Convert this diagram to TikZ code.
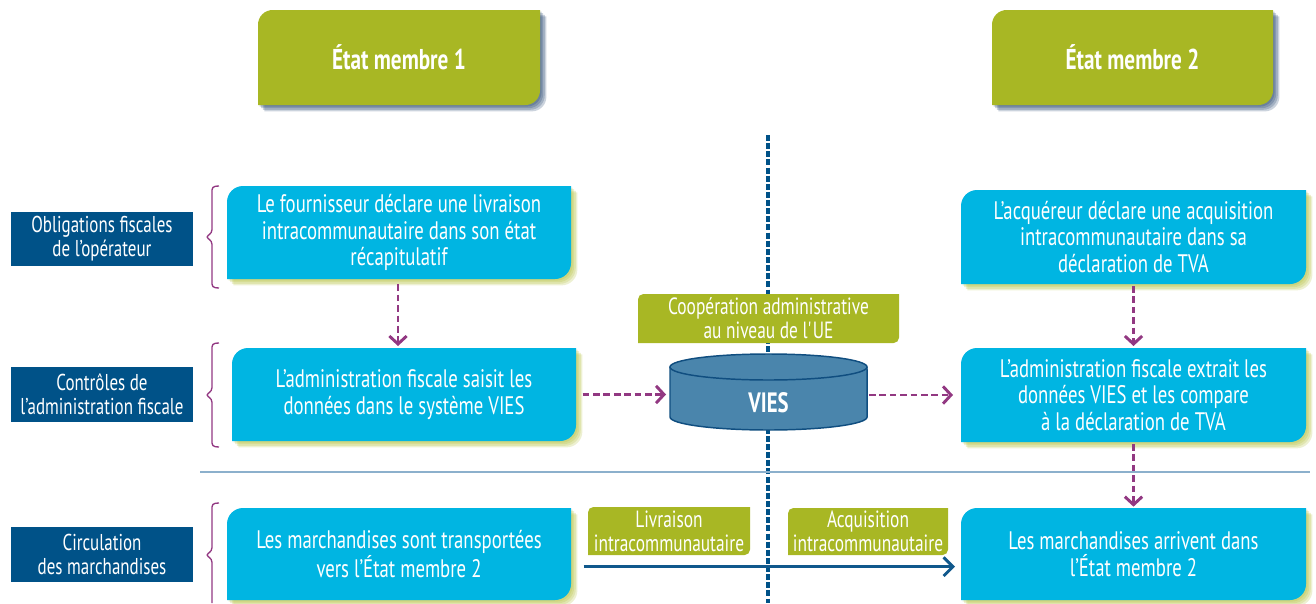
\documentclass[tikz,border=0pt]{standalone}
\usepackage{fontspec}
\setmainfont{PT Sans}[FakeStretch=0.74]
\usetikzlibrary{arrows.meta}
\definecolor{cyanbox}{RGB}{0,181,226}
\definecolor{olive}{RGB}{168,183,36}
\definecolor{navy}{RGB}{0,82,136}
\definecolor{hdrshadow}{RGB}{20,55,100}
\definecolor{boxshadow}{RGB}{175,188,50}
\definecolor{viesfill}{RGB}{74,133,172}
\definecolor{viesline}{RGB}{16,78,128}
\definecolor{purp}{RGB}{146,56,130}
\definecolor{arrowblue}{RGB}{16,88,140}
\definecolor{sepline}{RGB}{140,176,204}
\definecolor{divider}{RGB}{0,82,136}
\pgfdeclarelayer{lines}
\pgfdeclarelayer{bg}
\pgfsetlayers{lines,bg,main}
% shape with rounded top-left and bottom-right corners
% #1 node, #2 fill options, #3 radius, #4 dx, #5 dy (down)
\newcommand\tlbrat[5]{%
  \fill[#2] ([xshift=#4,yshift=-#5-#3]#1.north west)
    arc[start angle=180,end angle=90,radius=#3]
    -- ([xshift=#4,yshift=-#5]#1.north east)
    -- ([xshift=#4,yshift=-#5+#3]#1.south east)
    arc[start angle=0,end angle=-90,radius=#3]
    -- ([xshift=#4,yshift=-#5]#1.south west) -- cycle;}
\newcommand\softshadow[3]{% node, colour, radius
  \tlbrat{#1}{#2,opacity=0.22}{#3}{1.2pt}{1.2pt}%
  \tlbrat{#1}{#2,opacity=0.22}{#3}{2.4pt}{2.4pt}%
  \tlbrat{#1}{#2,opacity=0.22}{#3}{3.6pt}{3.6pt}%
  \tlbrat{#1}{#2,opacity=0.22}{#3}{4.8pt}{4.8pt}}
\newcommand\mkbox[7]{% style, name, x1, y1, x2, y2, text
  \node[#1, minimum width={(#5-#3)*0.75pt}, minimum height={(#6-#4)*0.75pt}]
    (#2) at ({(#3+#5)/2},{(#4+#6)/2}) {#7};}
\begin{document}
\begin{tikzpicture}[x=0.75pt,y=-0.75pt,
  every node/.style={inner sep=0pt,outer sep=0pt},
  boxtext/.style={text=white,align=center,font=\fontsize{19}{19.9}\selectfont},
  hdrtext/.style={text=white,align=center,font=\fontsize{21.5}{22}\selectfont\bfseries},
  sidelabel/.style={fill=navy,text=white,align=center,font=\fontsize{17.2}{18}\selectfont},
  greentext/.style={text=white,align=center,font=\fontsize{17.6}{18.2}\selectfont},
  purparrow/.style={draw=purp,line width=2.2pt,dash pattern=on 5pt off 2.8pt,
    -{Straight Barb[length=6pt,width=13pt]}},
  bluearrow/.style={draw=arrowblue,line width=2.2pt,-{Straight Barb[length=7pt,width=14pt]}},
  bracestyle/.style={draw=purp,line width=1pt,rounded corners=2.5pt},
  divstyle/.style={draw=divider,line width=2.3pt,dash pattern=on 4.5pt off 1.6pt},
]
\useasboundingbox (0,0) rectangle (1316,603);

% header boxes
\mkbox{hdrtext}{h1}{258}{10}{540}{105}{État membre 1}
\mkbox{hdrtext}{h2}{992}{10}{1273}{105}{État membre 2}

% side labels
\mkbox{sidelabel}{l1}{11}{212}{193}{266}{Obligations fiscales\\de l’opérateur}
\mkbox{sidelabel}{l2}{11}{367}{193}{422}{Contrôles de\\l’administration fiscale}
\mkbox{sidelabel}{l3}{11}{527}{193}{582}{Circulation\\des marchandises}

% process boxes
\mkbox{boxtext}{A}{227}{186}{571}{279}{Le fournisseur déclare une livraison\\intracommunautaire dans son état\\récapitulatif}
\mkbox{boxtext}{B}{232}{348}{576}{441}{L’administration fiscale saisit les\\données dans le système VIES}
\mkbox{boxtext}{C}{227}{508}{571}{600}{Les marchandises sont transportées\\vers l’État membre 2}
\mkbox{boxtext}{D}{961}{190}{1306}{284}{L’acquéreur déclare une acquisition\\intracommunautaire dans sa\\déclaration de TVA}
\mkbox{boxtext}{E}{961}{348}{1306}{442}{L’administration fiscale extrait les\\données VIES et les compare\\à la déclaration de TVA}
\mkbox{boxtext}{F}{961}{508}{1306}{600}{Les marchandises arrivent dans\\l’État membre 2}

% green labels
\mkbox{greentext}{coop}{638}{294}{899}{343}{Coopération administrative\\au niveau de l\textquotesingle UE}
\mkbox{greentext}{liv}{588}{507}{750}{555}{Livraison\\intracommunautaire}
\mkbox{greentext}{acq}{788}{508}{948}{555}{Acquisition\\intracommunautaire}

% VIES database
\mkbox{}{vies}{670}{367}{867}{417}{}
\node[text=white,font=\fontsize{21}{22}\selectfont\bfseries] (viestext) at (768.5,403) {VIES};

\begin{pgfonlayer}{bg}
  \softshadow{h1}{hdrshadow}{11pt}\tlbrat{h1}{olive}{11pt}{0pt}{0pt}
  \softshadow{h2}{hdrshadow}{11pt}\tlbrat{h2}{olive}{11pt}{0pt}{0pt}
  \foreach \n in {A,B,C,D,E,F}{%
    \softshadow{\n}{boxshadow}{12pt}\tlbrat{\n}{cyanbox}{12pt}{0pt}{0pt}}
  \foreach \n in {coop,liv,acq}{\tlbrat{\n}{olive}{4pt}{0pt}{0pt}}
  % cylinder
  \fill[viesfill] (vies.north west) -- (vies.south west)
    arc[start angle=180,end angle=360,x radius=73.9pt,y radius=9.75pt]
    -- (vies.north east) -- cycle;
  \draw[viesline,line width=1.1pt] (vies.north west) -- (vies.south west)
    arc[start angle=180,end angle=360,x radius=73.9pt,y radius=9.75pt]
    -- (vies.north east);
  \filldraw[fill=viesfill,draw=viesline,line width=1.1pt] (vies.north)
    ellipse[x radius=73.9pt,y radius=9.75pt];
\end{pgfonlayer}

% divider lines
\coordinate (divtop) at (768,135);
\coordinate (divbot) at (768,603);
\coordinate (sepL) at (200,472);
\coordinate (sepR) at (1310,472);
\begin{pgfonlayer}{lines}
  \draw[divstyle] (divtop) -- (divbot);
  \draw[sepline,line width=1.1pt] (sepL) -- (sepR);
\end{pgfonlayer}

% braces
\draw[bracestyle] (219,186) -- (212,186.5) -- (212,233) -- (205.5,237) -- (212,241) -- (212,287.5) -- (219,288);
\draw[bracestyle] (219,343) -- (212,343.5) -- (212,391) -- (205.5,395) -- (212,399) -- (212,446.5) -- (219,447);
\draw[bracestyle] (219,503) -- (212,503.5) -- (212,551) -- (205.5,555) -- (212,559) -- (212,603);

% connectors
\draw[purparrow,shorten <=4pt,shorten >=1.5pt] ([xshift=-0.75pt]A.south) -- ([xshift=-0.75pt]A.south |- B.north);
\draw[purparrow,shorten <=5pt,shorten >=3pt] (B.east) -- (B.east -| vies.west);
\draw[purparrow,shorten <=1.5pt,shorten >=6pt] (vies.east |- E.west) -- (E.west);
\draw[purparrow,shorten <=1.5pt,shorten >=1.5pt] (D.south) -- (E.north);
\draw[purparrow,shorten <=1.5pt,shorten >=1pt] (E.south) -- (F.north);
\draw[bluearrow,shorten <=9.5pt,shorten >=4.5pt] ([yshift=-9.5pt]C.east) -- ([yshift=-9.5pt]F.west);
\end{tikzpicture}
\end{document}
